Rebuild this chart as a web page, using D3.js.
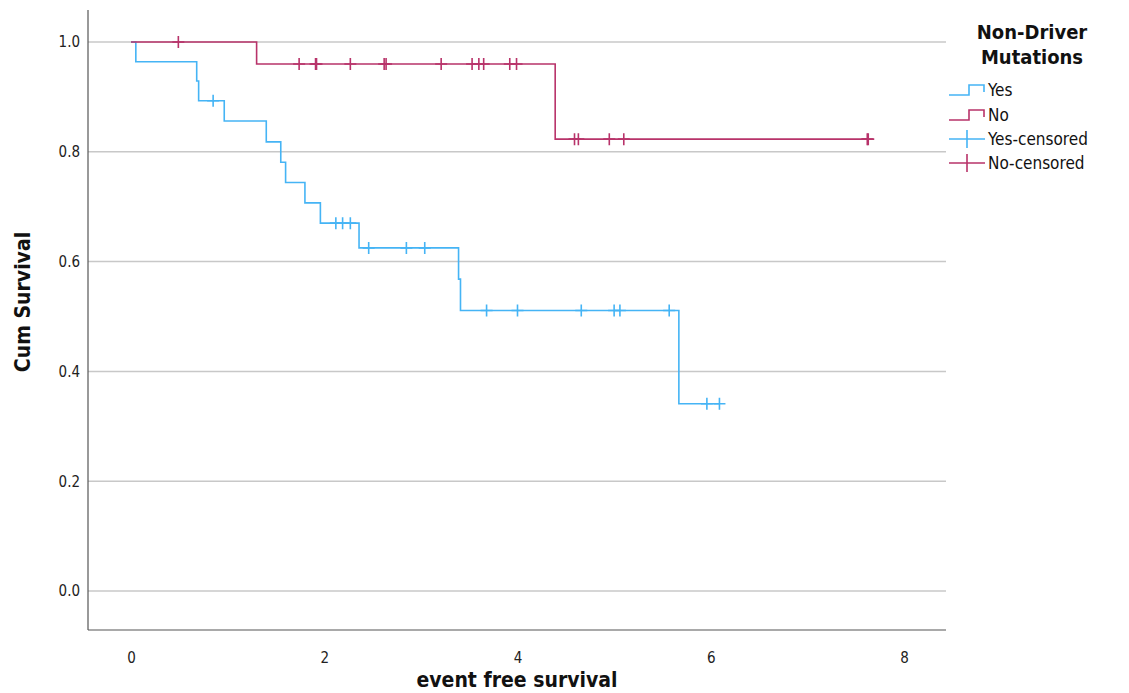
<!DOCTYPE html>
<html>
<head>
<meta charset="utf-8">
<script src="https://cdn.jsdelivr.net/npm/d3@7"></script>
<style>
  body { margin: 0; background: #fff; }
  text { font-family: "DejaVu Sans Condensed", "DejaVu Sans", sans-serif; }
</style>
</head>
<body>
<svg id="chart" width="1129" height="693"></svg>
<script>
// ---- Data ----
const groups = ["Yes", "No"];
const xTicks = [0, 2, 4, 6, 8];
const yTicks = [0.0, 0.2, 0.4, 0.6, 0.8, 1.0];

// Group "Yes": event times and survival after each event
const yesEventTimes = [0.05, 0.68, 0.70, 0.965, 1.40, 1.55, 1.60, 1.80, 1.96, 2.36, 3.39, 3.41, 5.67];
const yesSurvival   = [0.964, 0.929, 0.893, 0.856, 0.818, 0.781, 0.744, 0.707, 0.670, 0.625, 0.568, 0.511, 0.341];
const yesCensored   = [0.85, 2.12, 2.19, 2.27, 2.46, 2.85, 3.04, 3.68, 4.00, 4.66, 5.00, 5.06, 5.57, 5.96, 6.09];

// Group "No"
const noEventTimes = [1.30, 4.39];
const noSurvival   = [0.960, 0.823];
const noCensored   = [0.49, 1.74, 1.91, 1.92, 2.27, 2.62, 2.64, 3.21, 3.53, 3.60, 3.65, 3.92, 3.99, 4.59, 4.63, 4.95, 5.10, 7.62, 7.63];

const colors = { Yes: "#45b4f5", No: "#b8336a" };

// ---- Layout ----
const svg = d3.select("#chart");
const x = d3.scaleLinear().domain([0, 8]).range([131, 904]);
const y = d3.scaleLinear().domain([0, 1]).range([591, 42]);
const plotLeft = 88, plotRight = 946, plotTop = 10, plotBottom = 630;

// gridlines
svg.append("g").selectAll("line").data(yTicks).join("line")
  .attr("x1", plotLeft).attr("x2", plotRight)
  .attr("y1", d => y(d)).attr("y2", d => y(d))
  .attr("stroke", "#c8c8c8").attr("stroke-width", 1.5);

// axes
const yAxis = d3.axisLeft(y).tickValues(yTicks).tickFormat(d3.format(".1f")).tickSize(0).tickPadding(8);
const gy = svg.append("g").attr("transform", `translate(${plotLeft},0)`).call(yAxis);
gy.select(".domain").remove();
gy.attr("font-size", 15).attr("font-family", null);
gy.selectAll("text").attr("fill", "#222");

const xAxis = d3.axisBottom(x).tickValues(xTicks).tickFormat(d3.format("d")).tickSize(0).tickPadding(22);
const gx = svg.append("g").attr("transform", `translate(0,${plotBottom})`).call(xAxis);
gx.select(".domain").remove();
gx.attr("font-size", 15).attr("font-family", null);
gx.selectAll("text").attr("fill", "#222");

svg.append("line").attr("x1", plotLeft).attr("x2", plotLeft).attr("y1", plotTop).attr("y2", plotBottom)
  .attr("stroke", "#555").attr("stroke-width", 1.2);
svg.append("line").attr("x1", plotLeft).attr("x2", plotRight).attr("y1", plotBottom).attr("y2", plotBottom)
  .attr("stroke", "#555").attr("stroke-width", 1.2);

// axis titles
svg.append("text").attr("x", 517).attr("y", 687).attr("text-anchor", "middle")
  .attr("font-size", 21).attr("font-weight", "bold").attr("fill", "#111").text("event free survival");
svg.append("text").attr("transform", "translate(30,302) rotate(-90)").attr("text-anchor", "middle")
  .attr("font-size", 21).attr("font-weight", "bold").attr("fill", "#111").text("Cum Survival");

// step curves
function stepPoints(times, surv, censored) {
  const pts = [[0, 1]];
  let s = 1;
  times.forEach((t, i) => { pts.push([t, s]); s = surv[i]; pts.push([t, s]); });
  const last = Math.max(times[times.length - 1], d3.max(censored));
  pts.push([last, s]);
  return pts;
}
function survAt(times, surv, t) {
  let s = 1;
  times.forEach((tt, i) => { if (tt <= t) s = surv[i]; });
  return s;
}
const line = d3.line().x(d => x(d[0])).y(d => y(d[1]));

const series = [
  { name: "Yes", times: yesEventTimes, surv: yesSurvival, cens: yesCensored },
  { name: "No", times: noEventTimes, surv: noSurvival, cens: noCensored }
];

series.forEach(sr => {
  svg.append("path").datum(stepPoints(sr.times, sr.surv, sr.cens))
    .attr("d", line).attr("fill", "none").attr("stroke", colors[sr.name]).attr("stroke-width", 1.6);
  svg.append("g").selectAll("path").data(sr.cens).join("path")
    .attr("d", t => {
      const cx = x(t), cy = y(survAt(sr.times, sr.surv, t));
      return `M${cx - 6},${cy}H${cx + 6}M${cx},${cy - 6}V${cy + 6}`;
    })
    .attr("stroke", colors[sr.name]).attr("stroke-width", 1.6).attr("fill", "none");
});

// legend
const lg = svg.append("g");
lg.append("text").attr("x", 1032).attr("y", 39).attr("text-anchor", "middle")
  .attr("font-size", 20).attr("font-weight", "bold").attr("fill", "#111").text("Non-Driver");
lg.append("text").attr("x", 1032).attr("y", 64).attr("text-anchor", "middle")
  .attr("font-size", 20).attr("font-weight", "bold").attr("fill", "#111").text("Mutations");

const legendItems = [
  { label: "Yes", color: colors.Yes, type: "step" },
  { label: "No", color: colors.No, type: "step" },
  { label: "Yes-censored", color: colors.Yes, type: "cross" },
  { label: "No-censored", color: colors.No, type: "cross" }
];
const ly = [90, 115, 139, 163];
legendItems.forEach((it, i) => {
  const cy = ly[i];
  if (it.type === "step") {
    lg.append("path").attr("d", `M949,${cy + 5}H969V${cy - 5}H984V${cy + 2}`)
      .attr("stroke", it.color).attr("stroke-width", 1.6).attr("fill", "none");
  } else {
    lg.append("path").attr("d", `M949,${cy}H985M967,${cy - 9}V${cy + 9}`)
      .attr("stroke", it.color).attr("stroke-width", 1.6).attr("fill", "none");
  }
  lg.append("text").attr("x", 988).attr("y", cy + 6).attr("font-size", 17).attr("fill", "#111").text(it.label);
});
</script>
</body>
</html>
